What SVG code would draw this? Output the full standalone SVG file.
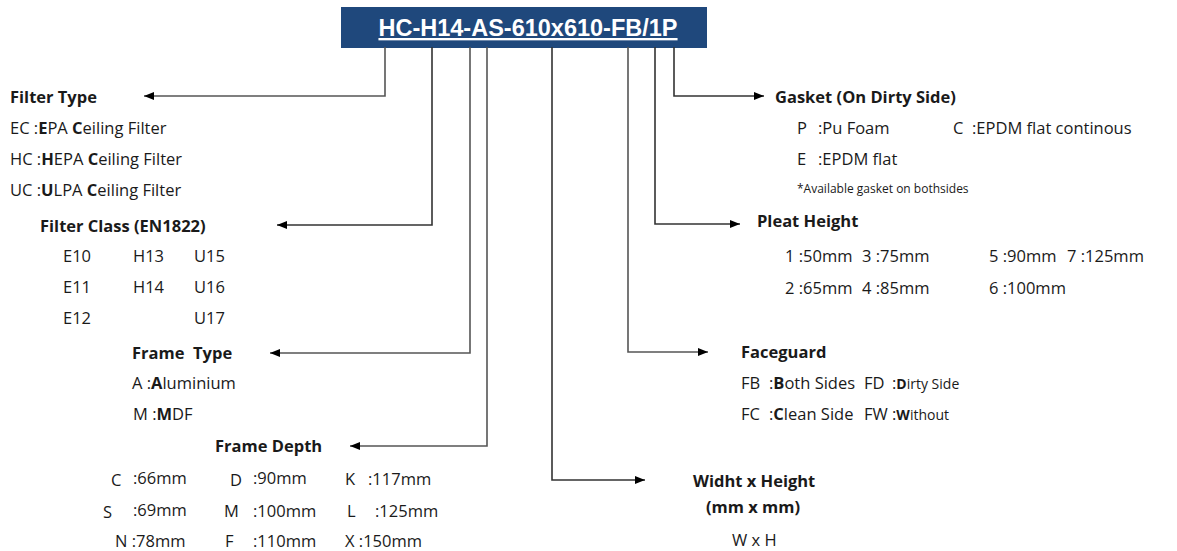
<svg xmlns="http://www.w3.org/2000/svg" width="1177" height="551" viewBox="0 0 1177 551">
<style>
text{font-family:"Open Sans","Liberation Sans",sans-serif;font-size:16.5px;fill:#1a1a1a}
.h{font-weight:bold}
.b{font-weight:bold}
.sm{font-size:12px}
.s13{font-size:14px}
.title{font-family:"Liberation Sans",Arial,sans-serif;font-weight:bold;font-size:23.5px;fill:#ffffff;text-decoration:underline}
.c{fill:none;stroke:#333;stroke-width:1.6;marker-end:url(#arr)}
.g{stroke:#555}
</style>
<defs>
<marker id="arr" viewBox="0 0 10 8" refX="10" refY="4" markerWidth="10" markerHeight="8" markerUnits="userSpaceOnUse" orient="auto">
<path d="M0,0 L10,4 L0,8 z" fill="#000"/>
</marker>
</defs>
<g id="title">
<rect x="341" y="7" width="366" height="41" fill="#1F487C"/>
<text class="title" x="528" y="36" text-anchor="middle">HC-H14-AS-610x610-FB/1P</text>
</g>
<g id="connectors">
<path class="c g" d="M385,47 V96 H144"/>
<path class="c" d="M432,47 V225 H277"/>
<path class="c g" d="M470,47 V353 H270"/>
<path class="c g" d="M487,47 V446 H350"/>
<path class="c" d="M552,47 V480 H645"/>
<path class="c g" d="M628,47 V352 H708"/>
<path class="c" d="M655,47 V224 H740"/>
<path class="c" d="M674,47 V96 H764"/>
</g>
<g id="filter-type">
<text class="h" x="10" y="103">Filter Type</text>
<text x="10" y="134">EC :<tspan class="b">E</tspan>PA <tspan class="b">C</tspan>eiling Filter</text>
<text x="10" y="165">HC :<tspan class="b">H</tspan>EPA <tspan class="b">C</tspan>eiling Filter</text>
<text x="10" y="196">UC :<tspan class="b">U</tspan>LPA <tspan class="b">C</tspan>eiling Filter</text>
</g>
<g id="filter-class">
<text class="h" x="40" y="232">Filter Class (EN1822)</text>
<text x="63" y="262">E10</text><text x="133" y="262">H13</text><text x="194" y="262">U15</text>
<text x="63" y="293">E11</text><text x="133" y="293">H14</text><text x="194" y="293">U16</text>
<text x="63" y="324">E12</text><text x="194" y="324">U17</text>
</g>
<g id="frame-type">
<text class="h" x="132" y="359">Frame<tspan x="193">Type</tspan></text>
<text x="132" y="389">A :<tspan class="b">A</tspan>luminium</text>
<text x="133" y="420">M :<tspan class="b">M</tspan>DF</text>
</g>
<g id="frame-depth">
<text class="h" x="215" y="452">Frame Depth</text>
<text x="111" y="486">C</text><text x="133" y="484">:66mm</text>
<text x="230" y="486">D</text><text x="253" y="484">:90mm</text>
<text x="345" y="485">K</text><text x="368" y="485">:117mm</text>
<text x="103" y="518">S</text><text x="133" y="516">:69mm</text>
<text x="224" y="517">M</text><text x="253" y="517">:100mm</text>
<text x="347" y="517">L</text><text x="375" y="517">:125mm</text>
<text x="115" y="547">N :78mm</text>
<text x="225" y="547">F</text><text x="253" y="547">:110mm</text>
<text x="345" y="547">X :150mm</text>
</g>
<g id="gasket">
<text class="h" x="775" y="103">Gasket (On Dirty Side)</text>
<text x="797" y="134">P</text><text x="818" y="134">:Pu Foam</text>
<text x="953" y="134">C</text><text x="972" y="134">:EPDM flat continous</text>
<text x="797" y="165">E</text><text x="818" y="165">:EPDM flat</text>
<text class="sm" x="797" y="193">*Available gasket on bothsides</text>
</g>
<g id="pleat-height">
<text class="h" x="757" y="227">Pleat Height</text>
<text x="785" y="262">1 :50mm</text><text x="862" y="262">3 :75mm</text><text x="989" y="262">5 :90mm</text><text x="1067" y="262">7 :125mm</text>
<text x="785" y="294">2 :65mm</text><text x="862" y="294">4 :85mm</text><text x="989" y="294">6 :100mm</text>
</g>
<g id="faceguard">
<text class="h" x="741" y="358">Faceguard</text>
<text x="741" y="389">FB <tspan x="769">:</tspan><tspan class="b">B</tspan>oth Sides</text>
<text x="864" y="389">FD <tspan x="892">:</tspan><tspan class="b s13">D</tspan><tspan class="s13">irty Side</tspan></text>
<text x="741" y="420">FC <tspan x="769">:</tspan><tspan class="b">C</tspan>lean Side</text>
<text x="864" y="420">FW <tspan x="892">:</tspan><tspan class="b s13">W</tspan><tspan class="s13">ithout</tspan></text>
</g>
<g id="width-height">
<text class="h" x="693" y="487">Widht x Height</text>
<text class="h" x="706" y="513">(mm x mm)</text>
<text x="732" y="546">W x H</text>
</g>
</svg>
